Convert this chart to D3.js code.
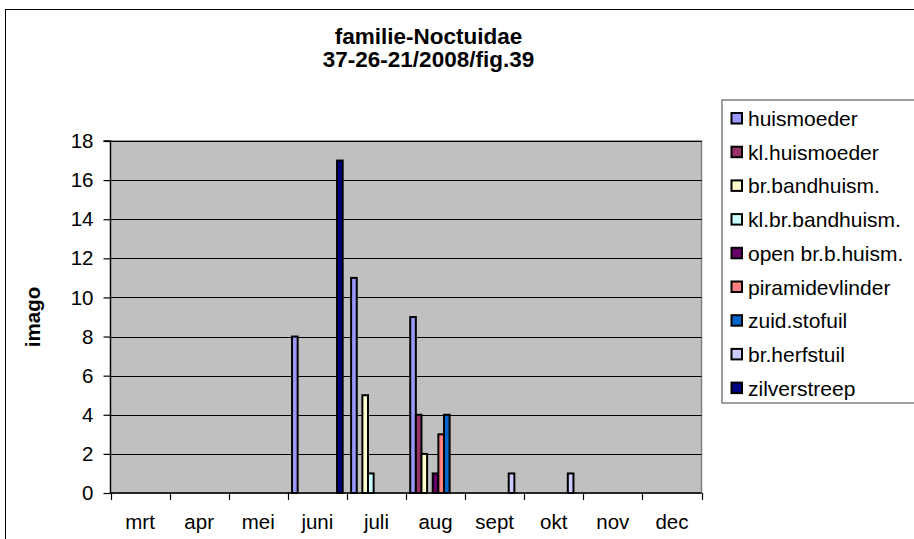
<!DOCTYPE html>
<html>
<head>
<meta charset="utf-8">
<script src="https://cdn.jsdelivr.net/npm/d3@7"></script>
<style>
  html, body { margin: 0; padding: 0; background: #fff; }
  svg { display: block; font-family: "Liberation Sans", Arial, sans-serif; }
</style>
</head>
<body>
<svg id="chart" width="914" height="539"></svg>
<script>
const months = ["mrt","apr","mei","juni","juli","aug","sept","okt","nov","dec"];
const seriesNames = ["huismoeder","kl.huismoeder","br.bandhuism.","kl.br.bandhuism.","open br.b.huism.","piramidevlinder","zuid.stofuil","br.herfstuil","zilverstreep"];
const seriesColors = ["#9999FF","#993366","#FFFFCC","#CCFFFF","#660066","#FF8080","#0066CC","#CCCCFF","#000080"];
const huismoeder      = [0,0,0,8,11,9,0,0,0,0];
const klHuismoeder    = [0,0,0,0,0,4,0,0,0,0];
const brBandhuism     = [0,0,0,0,5,2,0,0,0,0];
const klBrBandhuism   = [0,0,0,0,1,0,0,0,0,0];
const openBrBHuism    = [0,0,0,0,0,1,0,0,0,0];
const piramidevlinder = [0,0,0,0,0,3,0,0,0,0];
const zuidStofuil     = [0,0,0,0,0,4,0,0,0,0];
const brHerfstuil     = [0,0,0,0,0,0,1,1,0,0];
const zilverstreep    = [0,0,0,17,0,0,0,0,0,0];
const yTicks = [0,2,4,6,8,10,12,14,16,18];
const titleLines = ["familie-Noctuidae","37-26-21/2008/fig.39"];
const yTitle = "imago";

const seriesValues = [huismoeder, klHuismoeder, brBandhuism, klBrBandhuism, openBrBHuism, piramidevlinder, zuidStofuil, brHerfstuil, zilverstreep];

const svg = d3.select("#chart");
const W = 914, H = 539;
const plot = {left: 110.5, right: 701.5, top: 141, bottom: 493};

// outer chart border
svg.append("rect").attr("x",5.5).attr("y",9.5).attr("width",W+20).attr("height",H+20)
  .attr("fill","#fff").attr("stroke","#000").attr("stroke-width",1);

// title
const title = svg.append("text").attr("text-anchor","middle")
  .attr("font-size",22.5).attr("font-weight","bold").attr("fill","#000");
titleLines.forEach((t,i)=>{
  title.append("tspan").attr("x",428.5).attr("y",44 + i*23).text(t);
});

const x0 = d3.scaleBand().domain(months).range([plot.left, plot.right]).padding(0);
const x1 = d3.scaleBand().domain(seriesNames).range([0, x0.bandwidth()]).paddingInner(0).paddingOuter(0.75);
const y = d3.scaleLinear().domain([0,18]).range([plot.bottom, plot.top]);

// plot area
svg.append("rect").attr("x",plot.left).attr("y",plot.top)
  .attr("width",plot.right-plot.left).attr("height",plot.bottom-plot.top)
  .attr("fill","#C0C0C0").attr("stroke","#808080").attr("stroke-width",1.5);

// gridlines
svg.append("g").selectAll("line").data(yTicks.filter(d=>d>0)).join("line")
  .attr("x1",plot.left).attr("x2",plot.right)
  .attr("y1",d=>Math.round(y(d))+0.5).attr("y2",d=>Math.round(y(d))+0.5)
  .attr("stroke","#000").attr("stroke-width",1);

// bars
const data = [];
seriesNames.forEach((s,si)=>{
  seriesValues[si].forEach((v,mi)=>{
    if (v > 0) data.push({series:s, month:months[mi], value:v, color:seriesColors[si]});
  });
});
svg.append("g").selectAll("rect").data(data).join("rect")
  .attr("x",d=>x0(d.month)+x1(d.series))
  .attr("y",d=>y(d.value))
  .attr("width",x1.bandwidth())
  .attr("height",d=>y(0)-y(d.value))
  .attr("fill",d=>d.color)
  .attr("stroke","#000").attr("stroke-width",2);

// y axis
const yAxis = d3.axisLeft(y).tickValues(yTicks).tickSize(7).tickPadding(10).tickFormat(d3.format("d"));
const gy = svg.append("g").attr("transform",`translate(${plot.left},0)`).call(yAxis);
gy.select(".domain").attr("stroke","#000").attr("stroke-width",1.3).attr("d",`M-7,${plot.top}H0V${plot.bottom}`);
gy.selectAll(".tick line").attr("stroke","#000").attr("stroke-width",1.2);
gy.selectAll(".tick text").attr("font-size",20.5).attr("font-family","Liberation Sans, Arial, sans-serif").attr("fill","#000");

// x axis
const gx = svg.append("g").attr("transform",`translate(0,${plot.bottom})`);
gx.append("line").attr("x1",plot.left).attr("x2",plot.right).attr("y1",0).attr("y2",0)
  .attr("stroke","#000").attr("stroke-width",1.3);
const boundaries = months.map(m=>x0(m)).concat([x0(months[months.length-1])+x0.bandwidth()]);
gx.selectAll("line.tk").data(boundaries).join("line").attr("class","tk")
  .attr("x1",d=>Math.round(d)+0.5).attr("x2",d=>Math.round(d)+0.5).attr("y1",0).attr("y2",7)
  .attr("stroke","#000").attr("stroke-width",1.2);
gx.selectAll("text").data(months).join("text")
  .attr("x",d=>x0(d)+x0.bandwidth()/2).attr("y",36)
  .attr("text-anchor","middle").attr("font-size",20.5).attr("fill","#000").text(d=>d);

// y title
svg.append("text").attr("transform",`translate(40,${(plot.top+plot.bottom)/2}) rotate(-90)`)
  .attr("text-anchor","middle").attr("font-size",20.5).attr("font-weight","bold").text(yTitle);

// legend
const lg = svg.append("g");
lg.append("rect").attr("x",722).attr("y",100).attr("width",200).attr("height",303)
  .attr("fill","#fff").attr("stroke","#808080").attr("stroke-width",1.5);
const items = lg.selectAll("g.item").data(seriesNames).join("g").attr("class","item")
  .attr("transform",(d,i)=>`translate(0,${118.5 + i*33.7})`);
items.append("rect").attr("x",731.5).attr("y",-5.5).attr("width",10.5).attr("height",10.5)
  .attr("fill",(d,i)=>seriesColors[i]).attr("stroke","#000").attr("stroke-width",2);
items.append("text").attr("x",748).attr("y",7.5).attr("font-size",21).attr("fill","#000").text(d=>d);
</script>
</body>
</html>
